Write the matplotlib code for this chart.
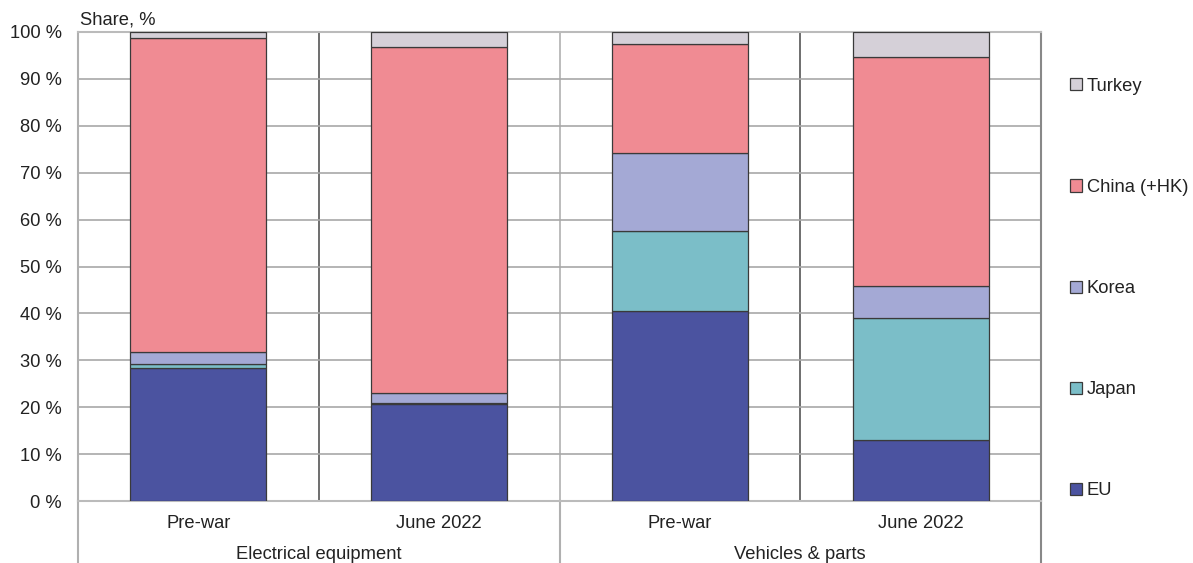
import matplotlib.pyplot as plt
import numpy as np

# data (share, %)
periods = ['Pre-war', 'June 2022', 'Pre-war', 'June 2022']
groups = ['Electrical equipment', 'Vehicles & parts']
countries = ['EU', 'Japan', 'Korea', 'China (+HK)', 'Turkey']
eu = [28.3, 20.6, 40.5, 12.9]
japan = [0.9, 0.4, 17.1, 26.2]
korea = [2.6, 2.0, 16.5, 6.7]
china = [67.0, 73.8, 23.3, 48.9]
turkey = [1.2, 3.2, 2.6, 5.3]
colors = ['#4b53a0', '#7bbec8', '#a4a9d5', '#f08b93', '#d5d0d8']

plt.rcParams['font.family'] = ['Liberation Sans', 'DejaVu Sans']
fs = 13.2

fig = plt.figure(figsize=(11.93, 5.63), dpi=100)
ax = fig.add_axes([78 / 1193, 1 - 501 / 563, (1041 - 78) / 1193, (501 - 32) / 563])

x = np.arange(len(periods))
bottom = np.zeros(len(periods))
handles = []
for vals, col, name in zip([eu, japan, korea, china, turkey], colors, countries):
    b = ax.bar(x, vals, width=0.565, bottom=bottom, color=col, edgecolor='#3a3a3a',
               linewidth=0.9, label=name, zorder=3)
    handles.append(b)
    bottom += np.array(vals)

ax.set_xlim(-0.5, 3.5)
ax.set_ylim(0, 100)
ax.set_yticks(np.arange(0, 101, 10))
ax.set_yticklabels([f'{v} %' for v in range(0, 101, 10)], fontsize=fs, color='#222222')
ax.tick_params(axis='y', length=0, pad=11.5)
ax.set_xticks([])
ax.grid(axis='y', color='#a8a8a8', linewidth=1.2, zorder=0)
for xv, c in [(0.5, '#555555'), (1.5, '#b0b0b0'), (2.5, '#555555')]:
    ax.axvline(xv, color=c, linewidth=1.2, zorder=1)
for s in ['top', 'bottom']:
    ax.spines[s].set_color('#bbbbbb')
    ax.spines[s].set_linewidth(1.5)
ax.spines['left'].set_color('#b0b0b0')
ax.spines['right'].set_color('#888888')
for s in ['left', 'right']:
    ax.spines[s].set_linewidth(1.5)

# category and group labels under the axis
trans = ax.get_xaxis_transform()
for xi, p in zip(x, periods):
    ax.text(xi, -0.047, p, transform=trans, ha='center', va='center', fontsize=fs, color='#222222')
for gi, g in enumerate(groups):
    ax.text(gi * 2 + 0.5, -0.115, g, transform=trans, ha='center', va='center', fontsize=fs,
            color='#222222', clip_on=False)
for xv, c in [(-0.5, '#b0b0b0'), (1.5, '#b0b0b0'), (3.5, '#888888')]:
    ax.plot([xv, xv], [0, -0.2], transform=trans, color=c, linewidth=1.5, clip_on=False)

fig.text(80 / 1193, 1 - 20 / 563, 'Share, %', fontsize=fs, color='#222222', va='center', ha='left')

# legend, Turkey on top
leg = ax.legend(handles[::-1], countries[::-1], loc='upper left', bbox_to_anchor=(1.023, 0.918),
                frameon=False, fontsize=fs, labelspacing=4.59, handlelength=0.65,
                handleheight=0.65, handletextpad=0.25, borderaxespad=0)
for t in leg.get_texts():
    t.set_color('#222222')

fig.savefig('out.png', dpi=100)
